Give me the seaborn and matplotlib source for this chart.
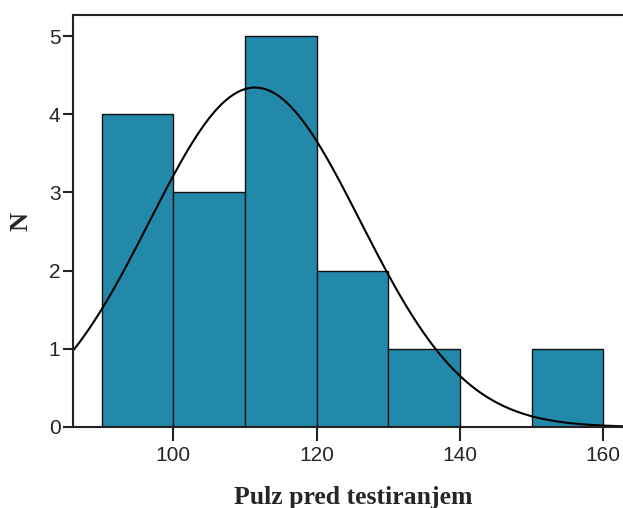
import numpy as np
import pandas as pd
import matplotlib
matplotlib.use("Agg")
import matplotlib.pyplot as plt
import seaborn as sns

# Pulse before testing: histogram in 10-beat bins with a fitted normal curve
bin_edges = [90, 100, 110, 120, 130, 140, 150, 160]
bin_counts = [4, 3, 5, 2, 1, 0, 1]
x_ticks = [100, 120, 140, 160]
y_ticks = [0, 1, 2, 3, 4, 5]
pulse_mean = 111.4
pulse_sd = 14.7
n_total = 16

sns.set_theme(style="white")
plt.rcParams["font.family"] = ["Liberation Sans", "DejaVu Sans"]

centers = [(a + b) / 2 for a, b in zip(bin_edges[:-1], bin_edges[1:])]
df = pd.DataFrame({"pulz": centers, "n": bin_counts})

fig = plt.figure(figsize=(6.23, 5.08), dpi=100)
ax = fig.add_axes([73 / 623, 81 / 508, 566 / 623, 412 / 508])

sns.histplot(data=df, x="pulz", weights="n", bins=bin_edges, ax=ax,
             color="#2389AA", alpha=1.0, edgecolor="#111111", linewidth=1.0)

# Normal curve scaled to counts per bin
bw = bin_edges[1] - bin_edges[0]
xs = np.linspace(86, 170, 400)
ys = n_total * bw * np.exp(-0.5 * ((xs - pulse_mean) / pulse_sd) ** 2) / (pulse_sd * np.sqrt(2 * np.pi))
sns.lineplot(x=xs, y=ys, ax=ax, color="black", linewidth=1.5)

ax.set_xlim(86, 165)
ax.set_ylim(0, 5.27)
ax.set_xticks(x_ticks)
ax.set_yticks(y_ticks)
ax.tick_params(axis="x", direction="out", length=10, width=1.5, color="#222222",
               labelsize=15, pad=4, bottom=True)
ax.tick_params(axis="y", direction="out", length=7, width=1.5, color="#222222",
               labelsize=15, pad=2, left=True)
for s in ax.spines.values():
    s.set_color("#222222")
    s.set_linewidth(1.5)

ax.set_xlabel("Pulz pred testiranjem", fontsize=18.5, fontweight="bold",
              family=["Liberation Serif"])
ax.set_ylabel("N", fontsize=19, fontweight="bold", family=["Liberation Serif"])
ax.xaxis.set_label_coords((353 - 73) / 566, -0.143)
ax.yaxis.set_label_coords(-0.072, 0.5)

fig.savefig("out.png", dpi=100)
